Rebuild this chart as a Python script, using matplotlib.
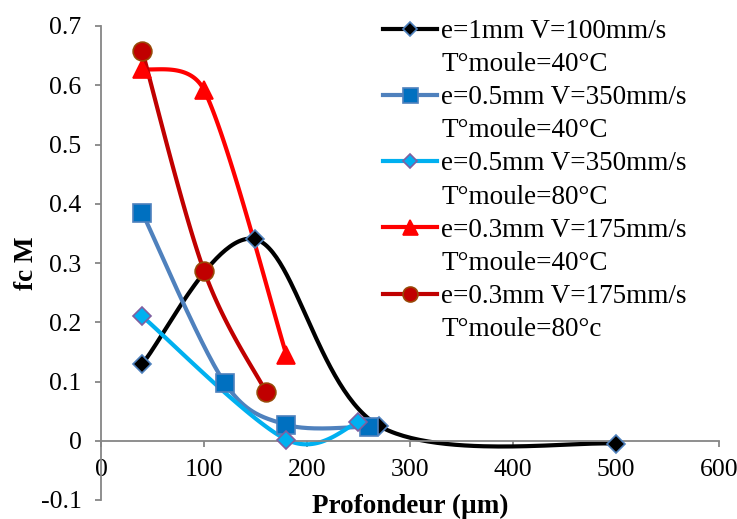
import numpy as np
import matplotlib.pyplot as plt
from matplotlib.lines import Line2D
from matplotlib.ticker import FuncFormatter, MultipleLocator

plt.rcParams['font.family'] = ['Liberation Serif', 'DejaVu Serif']
plt.rcParams['axes.unicode_minus'] = False

# depth (um) and fc M for each test
depth1 = [40, 150, 270, 500]
fc1 = [0.13, 0.34, 0.025, -0.005]
depth2 = [40, 120, 180, 260]
fc2 = [0.385, 0.098, 0.027, 0.024]
depth3 = [40, 180, 250]
fc3 = [0.21, 0.002, 0.031]
depth4 = [40, 100, 180]
fc4 = [0.628, 0.592, 0.145]
depth5 = [40, 100, 160]
fc5 = [0.658, 0.287, 0.083]

labels = [
    ('e=1mm V=100mm/s', 'T°moule=40°C'),
    ('e=0.5mm V=350mm/s', 'T°moule=40°C'),
    ('e=0.5mm V=350mm/s', 'T°moule=80°C'),
    ('e=0.3mm V=175mm/s', 'T°moule=40°C'),
    ('e=0.3mm V=175mm/s', 'T°moule=80°c'),
]

FS = 19.5
# rough screen scale (px per data unit), used so the smoothing behaves like excel
SX, SY = 1.03, 592.5


def smooth(x, y, n=60):
    # excel-like smoothed line: bezier, tangent limited to half the segment
    p = np.column_stack([np.array(x) * SX, np.array(y) * SY]).astype(float)
    p = np.vstack([p[0], p, p[-1]])
    out = []
    t = np.linspace(0, 1, n)[:, None]
    for i in range(1, len(p) - 2):
        p0, p1, p2, p3 = p[i - 1], p[i], p[i + 1], p[i + 2]
        d12 = np.hypot(*(p2 - p1))
        d02 = np.hypot(*(p2 - p0))
        d13 = np.hypot(*(p3 - p1))
        f1 = 1 / 6 if d02 / 6 < d12 / 2 else d12 / d02 / 2
        f2 = 1 / 6 if d13 / 6 < d12 / 2 else d12 / d13 / 2
        c1 = p1 + f1 * (p2 - p0)
        c2 = p2 - f2 * (p3 - p1)
        seg = ((1 - t) ** 3) * p1 + 3 * ((1 - t) ** 2) * t * c1 + 3 * (1 - t) * t ** 2 * c2 + t ** 3 * p2
        out.append(seg)
    out = np.vstack(out)
    return out[:, 0] / SX, out[:, 1] / SY


fig = plt.figure(figsize=(7.37, 5.19), dpi=100)
ax = fig.add_axes([101 / 737, 19 / 519, 618 / 737, 474 / 519])

styles = [
    dict(color='black', marker='D', mfc='black', mec='#4F81BD', ms=9),
    dict(color='#4F81BD', marker='s', mfc='#0070C0', mec='#4F81BD', ms=13.5),
    dict(color='#00B0F0', marker='D', mfc='#00B0F0', mec='#7F5FA0', ms=9),
    dict(color='#FF0000', marker='^', mfc='#FF0000', mec='#FF0000', ms=13.5),
    dict(color='#C00000', marker='o', mfc='#C00000', mec='#984807', ms=13.5),
]
series = [(depth1, fc1), (depth2, fc2), (depth3, fc3), (depth4, fc4), (depth5, fc5)]

handles = []
for (xs, ys), st in zip(series, styles):
    sx, sy = smooth(xs, ys)
    ax.plot(sx, sy, color=st['color'], lw=3, solid_capstyle='round', zorder=2)
    ax.plot(xs, ys, ls='none', marker=st['marker'], mfc=st['mfc'], mec=st['mec'],
            ms=st['ms'], mew=1.2, zorder=3)
    handles.append(Line2D([], [], color=st['color'], lw=3, marker=st['marker'], mfc=st['mfc'],
                          mec=st['mec'], ms=st['ms'] * 0.8, mew=1.2))

ax.set_xlim(0, 600)
ax.set_ylim(-0.1, 0.7)
ax.xaxis.set_major_locator(MultipleLocator(100))
ax.yaxis.set_major_locator(MultipleLocator(0.1))
ax.yaxis.set_major_formatter(FuncFormatter(lambda v, p: '%g' % round(v, 2)))

for s in ['top', 'right']:
    ax.spines[s].set_visible(False)
ax.spines['bottom'].set_position(('data', 0))
for s in ['left', 'bottom']:
    ax.spines[s].set_color('#868686')
    ax.spines[s].set_linewidth(1.3)
ax.tick_params(axis='both', direction='out', length=4, width=1.3, color='#868686', labelsize=18.5)
ax.tick_params(axis='y', pad=10)
ax.tick_params(axis='x', pad=9)

ax.set_xlabel('Profondeur (µm)', fontsize=FS, fontweight='bold')
ax.xaxis.set_label_coords(0.5, 0.012)
ax.set_ylabel('fc M', fontsize=FS, fontweight='bold')
ax.yaxis.set_label_coords(-0.1, 0.5)

blank = Line2D([], [], color='none')
leg_h = []
leg_l = []
for h, (l1, l2) in zip(handles, labels):
    leg_h += [h, blank]
    leg_l += [l1, l2]
ax.legend(leg_h, leg_l, loc='upper left', bbox_to_anchor=(383 / 737, 1 - 19 / 519),
          bbox_transform=fig.transFigure, frameon=False, fontsize=FS, handlelength=2.0,
          handletextpad=0.15, labelspacing=0.3, borderpad=0, borderaxespad=0)

fig.savefig('out.png', dpi=100)
